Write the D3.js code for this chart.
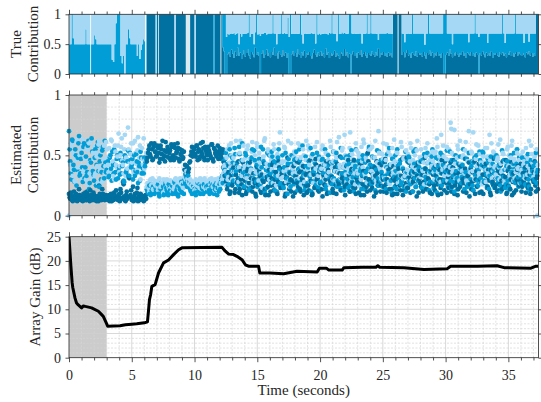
<!DOCTYPE html>
<html>
<head>
<meta charset="utf-8">
<script src="https://cdn.jsdelivr.net/npm/d3@7"></script>
<style>
  body { margin: 0; background: #fff; }
  svg { display: block; font-family: "Liberation Serif", "Times New Roman", serif; }
</style>
</head>
<body>
<div id="chart"></div>
<script>
// ---- data -------------------------------------------------------------
const timeMax = 37.4;
const shadeSpan = [0, 3];

// true contribution (percent), one sample every 0.1 s
const trueStep = 0.1;
const trueDark = [
  0,0,0,0,0,0,0,0,0,0,
  0,0,0,0,0,0,0,0,0,0,
  0,0,0,0,0,0,0,0,0,0,
  0,0,0,0,0,0,0,0,0,0,
  0,0,0,0,0,0,0,0,0,0,
  0,0,0,0,0,0,0,0,0,0,
  0,100,100,100,100,100,100,100,100,0,
  100,100,100,100,100,100,100,100,100,100,
  100,100,100,100,0,100,100,100,100,100,
  100,100,100,100,100,100,100,100,100,100,
  0,100,100,100,100,100,100,100,100,100,
  100,100,100,100,100,0,100,100,100,100,
  100,100,45,38,0,0,33,36,29,41,
  34,27,38,31,44,30,36,25,33,40,
  29,35,42,31,26,37,33,28,45,32,
  36,30,0,34,39,27,33,41,30,35,
  28,37,32,44,30,35,26,38,33,29,
  40,31,36,27,34,0,0,33,38,30,
  35,29,42,33,27,36,31,39,28,34,
  32,37,30,26,35,41,33,29,36,31,
  38,30,34,28,43,32,36,27,35,30,
  33,39,29,35,31,26,37,34,30,42,
  31,36,28,34,0,33,38,30,35,27,
  36,32,40,29,34,37,31,27,35,33,
  30,38,33,29,36,31,43,28,35,32,
  37,30,34,29,36,31,35,28,100,100,
  100,100,100,100,100,32,37,28,35,40,
  31,34,27,36,33,30,38,29,35,32,
  34,29,37,31,26,35,33,39,30,36,
  28,34,31,37,30,33,27,35,0,0,
  32,36,30,41,34,28,35,31,37,33,
  29,35,32,38,30,34,27,36,33,31,
  37,30,34,29,36,32,0,35,31,38,
  33,28,36,31,35,30,38,27,34,32,
  35,31,29,37,33,36,30,34,28,35,
  32,38,30,35,29,34,37,31,36,33,
  30,35,32,28,36,33,38,31,35,29,
  34,30,100,100
];
const trueMedium = [
  50,50,100,60,50,50,50,50,50,50,
  50,50,50,75,50,50,50,50,50,50,
  65,58,50,50,50,50,50,50,50,50,
  50,50,50,50,24,20,50,85,100,100,
  100,30,18,30,0,50,50,75,60,50,
  50,50,50,50,30,50,25,40,50,58,
  55,0,0,0,0,0,0,0,0,0,
  0,0,0,0,0,0,0,0,0,0,
  0,0,0,0,0,0,0,0,0,0,
  0,0,0,0,0,0,0,0,0,0,
  0,0,0,0,0,0,0,0,0,0,
  0,0,0,0,0,100,0,0,0,0,
  0,0,55,62,100,62,35,30,38,27,
  33,42,28,36,25,20,31,38,35,27,
  38,33,27,69,36,30,34,22,25,68,
  30,37,64,33,28,42,36,25,38,33,
  40,31,67,24,38,15,42,29,35,71,
  27,38,31,40,60,62,100,34,29,37,
  32,39,25,35,73,30,20,28,40,33,
  36,30,38,43,32,27,18,71,30,37,
  28,38,33,40,25,35,30,42,33,70,
  35,28,39,20,69,41,30,36,38,27,
  37,31,40,66,100,35,29,38,32,41,
  31,36,28,22,33,30,37,73,32,35,
  70,30,35,39,32,36,14,40,33,36,
  31,38,34,40,32,37,33,39,0,0,
  0,0,0,0,0,36,30,25,33,27,
  37,33,40,64,35,38,30,39,33,36,
  34,39,31,18,42,33,67,29,38,32,
  40,34,37,31,38,35,41,33,100,100,
  68,32,38,27,34,22,33,37,31,35,
  39,33,36,30,38,34,41,32,20,37,
  31,38,34,71,32,36,62,33,37,30,
  35,40,32,21,33,38,30,41,34,36,
  33,37,39,31,35,64,38,18,40,33,
  36,30,38,33,39,66,31,37,32,35,
  38,33,20,40,32,35,16,37,33,39,
  34,38,0,0
];
// short intervals where no source is active (seconds)
const trueGaps = [[1.68, 1.76], [6.05, 6.18], [7.1, 7.17], [9.3, 9.65], [12.06, 12.14], [26.17, 26.26]];

// estimated contribution (percent); even frames at k*0.1 s, odd frames half a step later
const estStep = 0.1;
const estDark = [
  18,14,16,12,20,15,13,17,22,14,
  16,12,15,19,13,17,14,21,15,13,
  17,14,12,16,25,15,13,18,14,16,
  15,13,17,14,12,16,19,14,15,13,
  18,22,14,28,16,12,20,15,31,17,
  13,24,16,14,19,12,15,18,14,16,
  13,17,45,52,58,49,55,47,60,53,
  50,56,44,58,51,47,54,61,49,55,
  52,46,57,50,59,48,53,56,45,51,
  54,48,38,34,41,36,44,50,57,52,
  55,49,58,53,47,60,51,56,46,54,
  50,57,52,48,59,45,55,51,53,47,
  56,49,52,40,33,28,22,36,18,31,
  25,40,19,34,28,45,22,30,17,38,
  29,18,37,24,44,31,20,35,27,16,
  40,26,33,19,47,28,22,38,30,17,
  34,25,42,21,30,36,18,45,27,32,
  23,39,16,31,48,26,35,20,29,41,
  19,33,27,44,22,37,30,17,40,25,
  36,21,46,28,18,34,24,42,31,20,
  27,38,16,32,25,45,19,35,29,43,
  22,30,40,18,36,26,49,21,33,28,
  17,41,24,34,20,38,27,46,23,31,
  35,19,29,43,26,17,37,24,52,30,
  21,39,28,16,33,45,25,36,20,42,
  30,24,47,19,35,27,40,22,31,18,
  38,26,34,44,21,29,17,37,25,48,
  23,32,19,41,28,36,24,16,43,30,
  27,45,20,33,39,22,31,26,50,18,
  34,25,41,29,17,38,23,46,30,21,
  36,19,32,27,44,24,40,18,35,28,
  22,42,26,37,20,31,47,25,33,16,
  39,28,21,45,30,24,35,19,41,27,
  18,34,43,23,38,29,17,36,25,48,
  31,20,37,26,42,22,33,28,46,19,
  25,40,30,17,35,44,21,38,27,32,
  43,24,29,36,19,41,26,34,22,39,
  28,45,20,33
];
const estMedium = [
  70,45,30,62,38,55,25,48,66,35,
  52,28,60,40,33,58,22,46,64,37,
  29,55,42,61,24,50,36,57,31,44,
  38,45,33,50,29,42,55,36,47,31,
  40,52,35,44,28,48,38,54,33,46,
  42,30,50,37,45,27,41,53,35,39,
  48,44,22,19,25,17,21,24,18,23,
  20,26,16,22,19,24,18,27,21,17,
  23,19,25,20,28,18,22,16,24,21,
  19,26,30,35,24,33,28,20,18,25,
  22,17,24,20,26,19,23,18,25,21,
  20,24,18,27,22,19,25,21,17,23,
  26,28,33,45,38,52,30,41,55,35,
  48,29,56,37,44,25,51,33,60,40,
  36,50,27,43,22,39,55,31,46,28,
  24,41,35,57,30,45,19,38,52,33,
  42,27,49,36,21,44,31,55,25,38,
  50,23,40,34,18,47,29,43,37,26,
  33,53,21,39,46,28,58,35,24,41,
  27,45,32,20,51,37,43,26,34,49,
  39,22,47,30,55,25,36,42,19,33,
  44,31,26,52,29,40,23,48,35,21,
  36,49,30,43,25,54,32,20,41,38,
  28,46,37,22,50,33,44,27,39,57,
  42,26,34,48,21,38,31,53,29,36,
  24,45,30,40,27,56,35,19,47,32,
  50,22,41,33,46,28,39,24,53,36,
  31,48,26,37,20,43,55,34,29,40,
  45,23,38,51,32,27,44,21,36,49,
  28,40,34,19,47,30,52,25,42,35,
  37,54,24,41,29,46,33,20,50,31,
  43,27,39,32,55,22,36,47,26,38,
  30,45,21,48,34,40,25,53,31,42,
  52,29,37,24,44,33,49,27,39,23,
  35,46,28,41,20,54,32,38,26,45,
  40,22,50,34,43,29,36,55,24,31,
  27,48,33,39,25,44,30,21,46,37,
  41,29,52,36
];
const estLight = [
  0,42,58,33,50,28,61,40,35,55,
  30,63,38,47,56,26,60,44,32,52,
  57,35,49,27,62,39,53,30,58,41,
  48,42,56,38,62,45,30,53,40,58,
  36,50,64,42,55,33,47,73,40,51,
  44,60,35,52,38,65,48,30,56,42,
  39,46,24,27,20,30,26,22,29,25,
  28,21,31,24,27,19,26,23,30,25,
  22,29,20,27,24,31,25,28,21,26,
  27,23,32,30,35,28,26,29,24,27,
  21,30,25,28,23,26,29,24,31,22,
  27,22,30,25,28,24,21,29,26,31,
  23,27,30,35,42,25,55,32,44,60,
  30,48,36,62,40,28,52,45,35,58,
  41,33,55,26,47,38,61,30,50,36,
  57,29,44,35,23,49,64,32,40,53,
  27,46,38,59,34,25,51,42,69,31,
  45,37,56,28,43,35,24,60,39,48,
  52,30,47,36,58,26,42,50,33,62,
  38,55,29,49,35,45,57,31,40,27,
  46,39,58,25,42,33,51,36,62,44,
  30,53,37,48,27,65,40,34,56,43,
  50,28,45,36,69,31,47,38,26,54,
  35,49,24,57,40,60,33,46,29,42,
  55,37,48,31,62,26,44,52,38,30,
  47,32,41,59,36,28,50,43,34,63,
  39,53,27,45,33,57,31,48,36,24,
  51,35,60,29,46,40,25,54,38,44,
  32,48,37,26,56,43,44,35,50,41,
  45,30,53,64,36,49,28,42,58,33,
  40,57,34,46,77,52,38,71,31,48,
  55,29,43,37,50,35,61,27,45,39,
  36,52,69,30,47,41,58,33,44,26,
  49,38,28,56,35,67,42,31,53,40,
  34,46,59,30,43,37,51,28,39,55,
  41,33,48,62,29,45,36,52,40,27,
  50,37,42,31,56,34,47,39,58,44,
  32,49,38,0
];
const estDarkOdd = [
  15,19,13,16,14,18,12,15,17,13,
  14,18,16,13,20,15,12,17,14,19,
  13,16,15,12,18,14,22,15,13,17,
  16,14,12,18,15,13,17,21,14,16,
  12,19,15,26,13,17,14,33,16,21,
  15,12,18,14,23,16,13,17,15,12,
  16,14,48,55,51,60,46,57,53,49,
  58,52,47,55,62,50,45,53,57,48,
  54,59,49,46,56,52,60,47,55,50,
  47,53,42,37,33,39,45,53,49,56,
  51,58,46,55,49,53,61,48,57,52,
  46,54,50,59,47,56,52,49,58,51,
  53,47,55,44,37,30,25,42,20,34,
  28,36,22,41,31,19,37,26,44,23,
  33,20,39,27,35,46,24,30,18,41,
  26,37,21,34,29,43,17,32,24,38,
  20,31,44,25,36,19,28,40,23,35,
  39,27,18,33,42,22,30,37,16,28,
  32,45,24,36,20,31,41,26,34,19,
  25,35,29,17,39,23,47,30,21,36,
  41,22,34,26,30,18,38,44,27,32,
  19,37,25,43,28,35,21,31,40,24,
  33,26,46,20,30,39,23,35,18,29,
  28,42,17,33,37,24,31,20,45,26,
  36,23,31,40,19,35,28,43,25,33,
  20,44,26,30,38,22,34,17,41,29,
  31,18,39,25,33,47,21,36,27,23,
  44,29,35,20,31,26,40,33,19,37,
  24,34,28,48,22,36,30,19,38,27,
  39,21,33,26,42,30,18,35,28,45,
  27,38,23,36,20,32,46,25,31,17,
  35,24,41,30,27,39,19,33,44,26,
  22,36,29,18,37,25,43,30,20,34,
  41,27,33,24,31,19,38,28,47,23,
  26,39,21,35,29,45,24,32,18,37,
  33,22,44,28,19,36,30,41,25,29,
  20,35,27,40,31,23,37,18,42,30,
  36,25,31,22
];
const estMediumOdd = [
  55,35,63,42,28,50,38,60,33,47,
  40,57,31,49,36,62,27,44,53,34,
  48,25,58,37,45,30,54,41,62,36,
  44,32,48,39,53,35,42,30,50,37,
  34,46,41,29,50,36,45,32,52,40,
  47,38,33,51,36,44,29,48,40,35,
  41,47,20,23,18,26,22,19,25,21,
  24,18,22,27,20,17,25,23,19,26,
  21,25,18,23,27,20,24,19,22,28,
  23,18,27,32,29,25,22,26,20,24,
  19,23,27,21,18,25,22,26,20,24,
  25,21,19,24,26,18,22,27,23,20,
  22,31,27,39,47,34,43,26,50,38,
  44,34,51,27,40,57,31,46,36,24,
  52,33,44,21,38,48,29,54,35,42,
  30,47,26,40,55,32,43,23,37,50,
  35,53,29,45,33,20,48,38,27,44,
  25,40,52,31,43,36,24,50,34,46,
  47,29,38,55,26,42,33,21,49,37,
  40,33,56,28,36,45,30,52,24,38,
  28,46,35,42,22,39,50,31,44,26,
  53,37,45,24,41,30,56,35,27,48,
  31,42,23,50,36,28,44,38,55,33,
  45,26,39,34,47,22,36,51,30,41,
  27,49,41,29,38,54,25,40,46,32,
  44,33,22,51,35,42,29,47,36,24,
  37,55,30,43,26,39,48,32,20,45,
  49,28,41,35,53,31,24,44,38,27,
  34,46,25,39,30,52,37,28,43,55,
  23,38,48,31,41,26,35,50,29,40,
  46,30,36,53,23,40,28,45,37,22,
  32,49,27,42,35,47,31,24,52,36,
  41,25,44,33,50,29,38,46,27,53,
  28,40,34,47,22,38,30,43,35,48,
  50,31,42,25,37,33,46,23,41,29,
  24,45,36,40,52,27,43,32,48,35,
  39,30,47,26,34,51,24,42,33,45,
  30,44,27,38
];
const estLightOdd = [
  45,60,38,52,29,46,63,34,50,41,
  58,36,48,30,54,43,35,62,39,47,
  33,52,41,59,37,55,28,46,35,61,
  55,36,50,63,44,33,58,42,49,68,
  41,57,46,35,67,48,39,55,44,60,
  50,37,62,43,54,40,58,35,47,64,
  45,52,27,23,29,25,31,21,26,28,
  24,29,22,27,25,30,21,28,26,23,
  29,24,27,22,30,25,28,23,31,26,
  24,28,34,37,31,27,30,25,28,23,
  26,23,29,25,31,22,27,30,24,28,
  23,29,26,31,24,27,30,22,28,25,
  30,26,33,40,37,48,30,58,40,50,
  36,56,43,29,51,40,62,33,46,38,
  48,31,58,42,36,53,27,45,39,60,
  35,52,40,28,47,62,34,43,55,30,
  50,38,27,55,41,48,33,60,36,44,
  32,57,45,38,62,29,50,41,35,53,
  43,36,60,31,48,40,55,28,46,38,
  58,42,34,50,27,44,39,61,33,47,
  37,55,43,30,52,38,46,26,57,40,
  45,29,50,61,36,42,31,54,40,67,
  34,47,39,56,28,51,42,35,60,37,
  52,40,30,45,63,35,48,27,55,42,
  38,57,34,48,29,44,70,40,33,51,
  60,31,46,39,53,26,42,56,36,45,
  43,52,35,28,61,40,47,33,54,38,
  29,45,56,41,35,50,38,62,31,48,
  55,38,44,33,49,60,27,46,40,53,
  36,51,42,57,30,45,67,38,49,34,
  47,29,55,40,72,36,50,43,31,58,
  40,62,33,48,38,54,29,45,70,36,
  53,37,46,31,59,42,35,51,40,28,
  44,56,38,49,33,46,60,37,52,41,
  31,48,40,63,36,52,29,44,38,57,
  50,35,58,42,47,31,55,39,46,34,
  38,53,45,33,49,41,62,36,51,43,
  47,35,55,42
];

// array gain (dB)
const gainTime = [0, 0.15, 0.25, 0.3, 0.48, 0.6, 0.74, 1.0, 1.15, 1.3, 1.8, 2.34, 2.6, 2.74, 2.95, 3.08,
  4.07, 4.5, 5.0, 5.4, 6.0, 6.25, 6.33, 6.41, 6.5, 6.6, 6.86, 7.13, 7.53, 7.93, 8.33, 8.73, 9.0,
  12.19, 12.45, 12.72, 13.1, 13.38, 13.78, 14.05, 14.3, 15.1, 15.2, 16.0, 17.1, 18.17, 19.77, 19.95,
  20.5, 20.7, 21.76, 21.9, 23.36, 24.45, 24.6, 24.75, 26.68, 28.28, 30.14, 30.4, 32.54, 34.1, 34.66,
  36.8, 37.2, 37.4];
const gainDb = [25, 19.0, 15.5, 14.5, 12.3, 11.3, 10.9, 10.3, 10.7, 10.6, 10.3, 9.6, 8.9, 8.5, 7.3, 6.5,
  6.6, 6.8, 6.9, 7.0, 7.2, 7.4, 9.6, 12.0, 13.0, 14.75, 15.1, 17.5, 19.6, 20.2, 21.3, 22.3, 22.7,
  22.8, 22.0, 21.4, 21.3, 20.95, 20.25, 19.2, 18.9, 18.9, 17.5, 17.5, 17.35, 17.85, 17.7, 18.5,
  18.5, 18.1, 18.1, 18.6, 18.7, 18.7, 19.0, 18.7, 18.6, 18.2, 18.4, 18.9, 18.9, 19.0, 18.6,
  18.5, 18.9, 18.9];

const sourceColor = { dark: '#0071a1', medium: '#009dd6', light: '#a5d8f4' };

// ---- layout -----------------------------------------------------------
const width = 541, height = 402;
const x = d3.scaleLinear().domain([0, timeMax]).range([69, 538.5]);
const yTop = d3.scaleLinear().domain([0, 1]).range([74, 14.3]);
const yMid = d3.scaleLinear().domain([0, 1]).range([215.7, 95]);
const yBot = d3.scaleLinear().domain([0, 25]).range([357.7, 236.7]);
const axisColor = '#262626';
const fontFamily = '"Liberation Serif", "Times New Roman", serif';

const svg = d3.select('#chart').append('svg')
    .attr('width', width)
    .attr('height', height)
    .attr('font-family', fontFamily);

const defs = svg.append('defs');
function clip(id, y) {
    defs.append('clipPath').attr('id', id)
        .append('rect')
        .attr('x', x(0)).attr('y', y.range()[1])
        .attr('width', x(timeMax) - x(0))
        .attr('height', y.range()[0] - y.range()[1]);
}
clip('clipTop', yTop);
clip('clipBot', yBot);

// grid lines (major solid, minor dashed)
function grid(y, yMinor, yMajor) {
    const g = svg.append('g');
    const [b, t] = y.range();
    const xMinor = d3.range(0, 38, 1).filter(d => d % 5);
    const xMajor = d3.range(5, 38, 5);
    g.selectAll('.vmin').data(xMinor).enter().append('line')
        .attr('x1', d => x(d)).attr('x2', d => x(d)).attr('y1', t).attr('y2', b)
        .attr('stroke', '#d6d6d6').attr('stroke-width', 0.7).attr('stroke-dasharray', '2,1.5');
    g.selectAll('.hmin').data(yMinor).enter().append('line')
        .attr('x1', x(0)).attr('x2', x(timeMax)).attr('y1', d => y(d)).attr('y2', d => y(d))
        .attr('stroke', '#d6d6d6').attr('stroke-width', 0.7).attr('stroke-dasharray', '2,1.5');
    g.selectAll('.vmaj').data(xMajor).enter().append('line')
        .attr('x1', d => x(d)).attr('x2', d => x(d)).attr('y1', t).attr('y2', b)
        .attr('stroke', '#cfcfcf').attr('stroke-width', 0.8);
    g.selectAll('.hmaj').data(yMajor).enter().append('line')
        .attr('x1', x(0)).attr('x2', x(timeMax)).attr('y1', d => y(d)).attr('y2', d => y(d))
        .attr('stroke', '#cfcfcf').attr('stroke-width', 0.8);
}

// box, ticks and labels
function frame(y, yTicks, yFmt, showX) {
    const [b, t] = y.range();
    const major = d3.range(0, 38, 5);
    const minor = d3.range(0, 38, 1).filter(d => d % 5);
    const style = g => {
        g.select('.domain').remove();
        g.attr('font-family', fontFamily);
        g.selectAll('line').attr('stroke', axisColor).attr('stroke-width', 0.8);
        g.selectAll('text').attr('fill', axisColor).attr('font-size', 14)
            .attr('font-family', fontFamily);
    };
    svg.append('g').attr('transform', `translate(0,${b})`)
        .call(d3.axisBottom(x).tickValues(major).tickSize(4.5).tickPadding(8)
            .tickFormat(showX ? d3.format('d') : ''))
        .call(style);
    svg.append('g').attr('transform', `translate(0,${b})`)
        .call(d3.axisBottom(x).tickValues(minor).tickSize(2.8).tickFormat('')).call(style);
    svg.append('g').attr('transform', `translate(0,${t})`)
        .call(d3.axisTop(x).tickValues(major).tickSize(4.5).tickFormat('')).call(style);
    svg.append('g').attr('transform', `translate(0,${t})`)
        .call(d3.axisTop(x).tickValues(minor).tickSize(2.8).tickFormat('')).call(style);
    svg.append('g').attr('transform', `translate(${x(0)},0)`)
        .call(d3.axisLeft(y).tickValues(yTicks).tickSize(3.5).tickPadding(4.5).tickFormat(yFmt))
        .call(style);
    svg.append('g').attr('transform', `translate(${x(timeMax)},0)`)
        .call(d3.axisRight(y).tickValues(yTicks).tickSize(3.5).tickFormat('')).call(style);
    svg.append('rect')
        .attr('x', x(0)).attr('y', t)
        .attr('width', x(timeMax) - x(0)).attr('height', b - t)
        .attr('fill', 'none').attr('stroke', axisColor).attr('stroke-width', 0.8);
}

function yLabel(lines, cx, cy) {
    const text = svg.append('text')
        .attr('transform', `translate(${cx},${cy}) rotate(-90)`)
        .attr('text-anchor', 'middle')
        .attr('font-size', 15)
        .attr('font-family', fontFamily)
        .attr('fill', axisColor);
    lines.forEach((s, i) => {
        text.append('tspan').attr('x', 0)
            .attr('y', (i - (lines.length - 1) / 2) * 17 + 5)
            .text(s);
    });
}

const fmtContribution = d => d === 0.5 ? '0.5' : d3.format('d')(d);

// ---- panel 1 : true contribution ---------------------------------------
const trueRows = trueDark.map((d, i) => ({
    t: i * trueStep,
    dark: d / 100,
    medium: trueMedium[i] / 100,
    light: Math.max(0, 100 - d - trueMedium[i]) / 100
}));
// close the last step at the right edge
trueRows.push(Object.assign({}, trueRows[trueRows.length - 1], { t: timeMax }));
const stack = d3.stack().keys(['dark', 'medium', 'light'])(trueRows);
const area = d3.area()
    .curve(d3.curveStepAfter)
    .x(d => x(d.data.t))
    .y0(d => yTop(d[0]))
    .y1(d => yTop(d[1]));

const topG = svg.append('g').attr('clip-path', 'url(#clipTop)');
topG.selectAll('path').data(stack).enter().append('path')
    .attr('d', area)
    .attr('fill', d => sourceColor[d.key]);
topG.selectAll('.gap').data(trueGaps).enter().append('rect')
    .attr('x', d => x(d[0])).attr('width', d => x(d[1]) - x(d[0]))
    .attr('y', yTop(1)).attr('height', yTop(0) - yTop(1))
    .attr('fill', '#fff').attr('opacity', 0.85);
frame(yTop, [0, 0.5, 1], fmtContribution, false);
yLabel(['True', 'Contribution'], 24, 44);

// ---- panel 2 : estimated contribution ----------------------------------
svg.append('rect')
    .attr('x', x(shadeSpan[0])).attr('width', x(shadeSpan[1]) - x(shadeSpan[0]))
    .attr('y', yMid(1)).attr('height', yMid(0) - yMid(1))
    .attr('fill', '#cccccc');
grid(yMid, d3.range(0.1, 1, 0.1).filter(d => Math.abs(d - 0.5) > 1e-6), [0.5]);

const estPoints = [];
function addFrames(dark, medium, light, offset) {
    dark.forEach((d, i) => {
        const t = (i + offset) * estStep;
        estPoints.push({ t, v: d / 100, c: sourceColor.dark });
        estPoints.push({ t, v: medium[i] / 100, c: sourceColor.medium });
        estPoints.push({ t, v: light[i] / 100, c: sourceColor.light });
    });
}
addFrames(estDark, estMedium, estLight, 0);
addFrames(estDarkOdd, estMediumOdd, estLightOdd, 0.5);
estPoints.sort((a, b) => a.t - b.t);

svg.append('g').selectAll('circle').data(estPoints).enter().append('circle')
    .attr('cx', d => x(d.t))
    .attr('cy', d => yMid(d.v))
    .attr('r', 2.4)
    .attr('fill', d => d.c);
frame(yMid, [0, 0.5, 1], fmtContribution, false);
yLabel(['Estimated', 'Contribution'], 24, 155);

// ---- panel 3 : array gain ---------------------------------------------
svg.append('rect')
    .attr('x', x(shadeSpan[0])).attr('width', x(shadeSpan[1]) - x(shadeSpan[0]))
    .attr('y', yBot(25)).attr('height', yBot(0) - yBot(25))
    .attr('fill', '#cccccc');
grid(yBot, d3.range(1, 25, 1).filter(d => d % 5), [5, 10, 15, 20]);

const gainLine = d3.line()
    .x((d, i) => x(gainTime[i]))
    .y(d => yBot(d));
svg.append('path')
    .datum(gainDb)
    .attr('clip-path', 'url(#clipBot)')
    .attr('d', gainLine)
    .attr('fill', 'none')
    .attr('stroke', '#000')
    .attr('stroke-width', 3)
    .attr('stroke-linejoin', 'round');
frame(yBot, [0, 5, 10, 15, 20, 25], d3.format('d'), true);
yLabel(['Array Gain (dB)'], 35, 297);

svg.append('text')
    .attr('x', (x(0) + x(timeMax)) / 2)
    .attr('y', 395)
    .attr('text-anchor', 'middle')
    .attr('font-size', 15)
    .attr('font-family', fontFamily)
    .attr('fill', axisColor)
    .text('Time (seconds)');
</script>
</body>
</html>
